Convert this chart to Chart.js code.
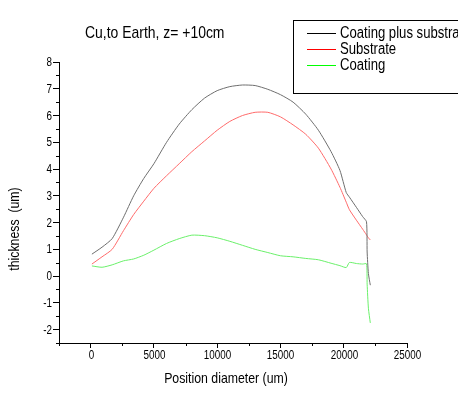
<!DOCTYPE html>
<html>
<head>
<meta charset="utf-8">
<script src="https://cdn.jsdelivr.net/npm/chart.js@4"></script>
<style>
  html, body { margin: 0; padding: 0; background: #fff; }
  #wrap { width: 458px; height: 399px; position: relative; }
</style>
</head>
<body>
<div id="wrap"><canvas id="thicknessChart"></canvas></div>
<script>
// Donnees
const chartTitle = 'Cu,to Earth, z= +10cm';
const xTitle = 'Position diameter (um)';
const yTitle = 'thickness  (um)';
const seriesNames = ['Coating plus substrate', 'Substrate', 'Coating'];

const positions = [100, 900, 1700, 2600, 3400, 4200, 5000, 6000, 7000, 8000, 9000, 10000, 11000,
  12000, 13000, 14000, 15000, 16000, 17000, 18000, 19000, 19700, 20200, 20450, 21000, 21500,
  21800, 21850, 21950, 22100];

const totalValues = [0.82, 1.08, 1.40, 2.20, 3.00, 3.65, 4.20, 5.00, 5.68, 6.22, 6.65, 6.93, 7.08,
  7.14, 7.12, 6.98, 6.78, 6.50, 6.05, 5.45, 4.65, 3.95, 3.12, 2.95, 2.57, 2.22,
  2.03, 0.90, 0.10, -0.34];

const substrateValues = [0.45, 0.72, 1.00, 1.70, 2.30, 2.80, 3.28, 3.75, 4.20, 4.65, 5.05, 5.45, 5.78,
  6.00, 6.12, 6.12, 5.95, 5.65, 5.30, 4.78, 4.00, 3.32, 2.76, 2.48, 2.09, 1.75,
  1.54, 1.50, 1.43, 1.35];

const coatingValues = [0.38, 0.33, 0.42, 0.57, 0.64, 0.78, 0.97, 1.22, 1.40, 1.53, 1.51, 1.43, 1.30,
  1.15, 1.00, 0.88, 0.76, 0.72, 0.66, 0.61, 0.48, 0.39, 0.32, 0.51, 0.47, 0.45,
  0.46, -0.30, -1.20, -1.75];

const xTicks = { min: -2500, max: 25000, step: 2500, major: 5000 };
const yTicks = { min: -2.5, max: 8, step: 0.5, major: 1 };

const legendColors = ['#000000', '#ff0000', '#00ff00'];
const lineColors = ['#6e6e6e', '#ff6a6a', '#6af06a'];

const font = "'Liberation Sans', Arial, sans-serif";
const squeeze = 0.82; // le texte de l'original est plus etroit

function toPoints(values) {
  return positions.map((x, i) => ({ x: x, y: values[i] }));
}

// texte un peu comprime horizontalement
function drawText(ctx, text, x, y, size, align) {
  ctx.save();
  ctx.font = size + 'px ' + font;
  ctx.textAlign = align;
  ctx.textBaseline = 'middle';
  ctx.fillStyle = '#000';
  ctx.translate(x, y);
  ctx.scale(squeeze, 1);
  ctx.fillText(text, 0, 0);
  ctx.restore();
}

// Titre, legende, etiquettes, titres des axes et petites graduations
const decorPlugin = {
  id: 'decor',
  afterDraw(chart) {
    const ctx = chart.ctx;
    const area = chart.chartArea;
    const xs = chart.scales.x;
    const ys = chart.scales.y;
    ctx.save();

    ctx.strokeStyle = '#000';
    ctx.lineWidth = 1;
    for (let v = xTicks.min; v <= xTicks.max; v += xTicks.step) {
      const px = Math.round(xs.getPixelForValue(v)) + 0.5;
      if (v % xTicks.major === 0) {
        if (v >= 0) drawText(ctx, String(v), px, area.bottom + 13, 12, 'center');
        continue;
      }
      ctx.beginPath();
      ctx.moveTo(px, area.bottom);
      ctx.lineTo(px, area.bottom + 3);
      ctx.stroke();
    }
    for (let v = yTicks.min; v <= yTicks.max + 1e-9; v += yTicks.step) {
      const py = Math.round(ys.getPixelForValue(v)) + 0.5;
      if (Math.abs(v - Math.round(v)) < 1e-6) {
        drawText(ctx, String(Math.round(v)), area.left - 7, py, 12, 'right');
        continue;
      }
      ctx.beginPath();
      ctx.moveTo(area.left, py);
      ctx.lineTo(area.left - 3, py);
      ctx.stroke();
    }

    // titre
    drawText(ctx, chartTitle, 85, 33, 17, 'left');

    // legende
    ctx.strokeStyle = '#000';
    ctx.strokeRect(293.5, 20.5, 220, 73);
    chart.data.datasets.forEach((ds, i) => {
      const y = 33.5 + i * 16;
      ctx.strokeStyle = legendColors[i];
      ctx.beginPath();
      ctx.moveTo(307, y);
      ctx.lineTo(336, y);
      ctx.stroke();
      drawText(ctx, ds.label, 340, y, 16, 'left');
    });

    // titres des axes
    drawText(ctx, xTitle, 226, 379, 15, 'center');
    ctx.translate(15, 229);
    ctx.rotate(-Math.PI / 2);
    ctx.font = '15px ' + font;
    ctx.textAlign = 'center';
    ctx.textBaseline = 'middle';
    ctx.fillStyle = '#000';
    ctx.scale(squeeze, 1);
    ctx.fillText(yTitle, 0, 0);

    ctx.restore();
  }
};

const ctx = document.getElementById('thicknessChart').getContext('2d');

new Chart(ctx, {
  type: 'line',
  data: {
    datasets: [
      { label: seriesNames[0], data: toPoints(totalValues), borderColor: lineColors[0] },
      { label: seriesNames[1], data: toPoints(substrateValues), borderColor: lineColors[1] },
      { label: seriesNames[2], data: toPoints(coatingValues), borderColor: lineColors[2] }
    ].map(ds => Object.assign(ds, { borderWidth: 1, pointRadius: 0, tension: 0.2, fill: false }))
  },
  options: {
    responsive: true,
    maintainAspectRatio: false,
    animation: false,
    layout: { padding: { top: 62, right: 51, left: 0, bottom: 0 } },
    plugins: {
      legend: { display: false },
      title: { display: false },
      tooltip: { enabled: false }
    },
    scales: {
      x: {
        type: 'linear',
        min: xTicks.min,
        max: xTicks.max,
        afterFit: scale => { scale.height = 56; },
        border: { color: '#000', width: 1 },
        grid: {
          drawOnChartArea: false,
          tickLength: 5,
          tickColor: c => (c.tick && c.tick.value % xTicks.major === 0) ? '#000' : 'rgba(0,0,0,0)'
        },
        ticks: { stepSize: xTicks.step, autoSkip: false, maxRotation: 0, display: false }
      },
      y: {
        type: 'linear',
        min: yTicks.min,
        max: yTicks.max,
        afterFit: scale => { scale.width = 59; },
        border: { color: '#000', width: 1 },
        grid: {
          drawOnChartArea: false,
          tickLength: 6,
          tickColor: c => (c.tick && Math.abs(c.tick.value - Math.round(c.tick.value)) < 1e-6) ? '#000' : 'rgba(0,0,0,0)'
        },
        ticks: { stepSize: yTicks.step, autoSkip: false, display: false }
      }
    }
  },
  plugins: [decorPlugin]
});
</script>
</body>
</html>
